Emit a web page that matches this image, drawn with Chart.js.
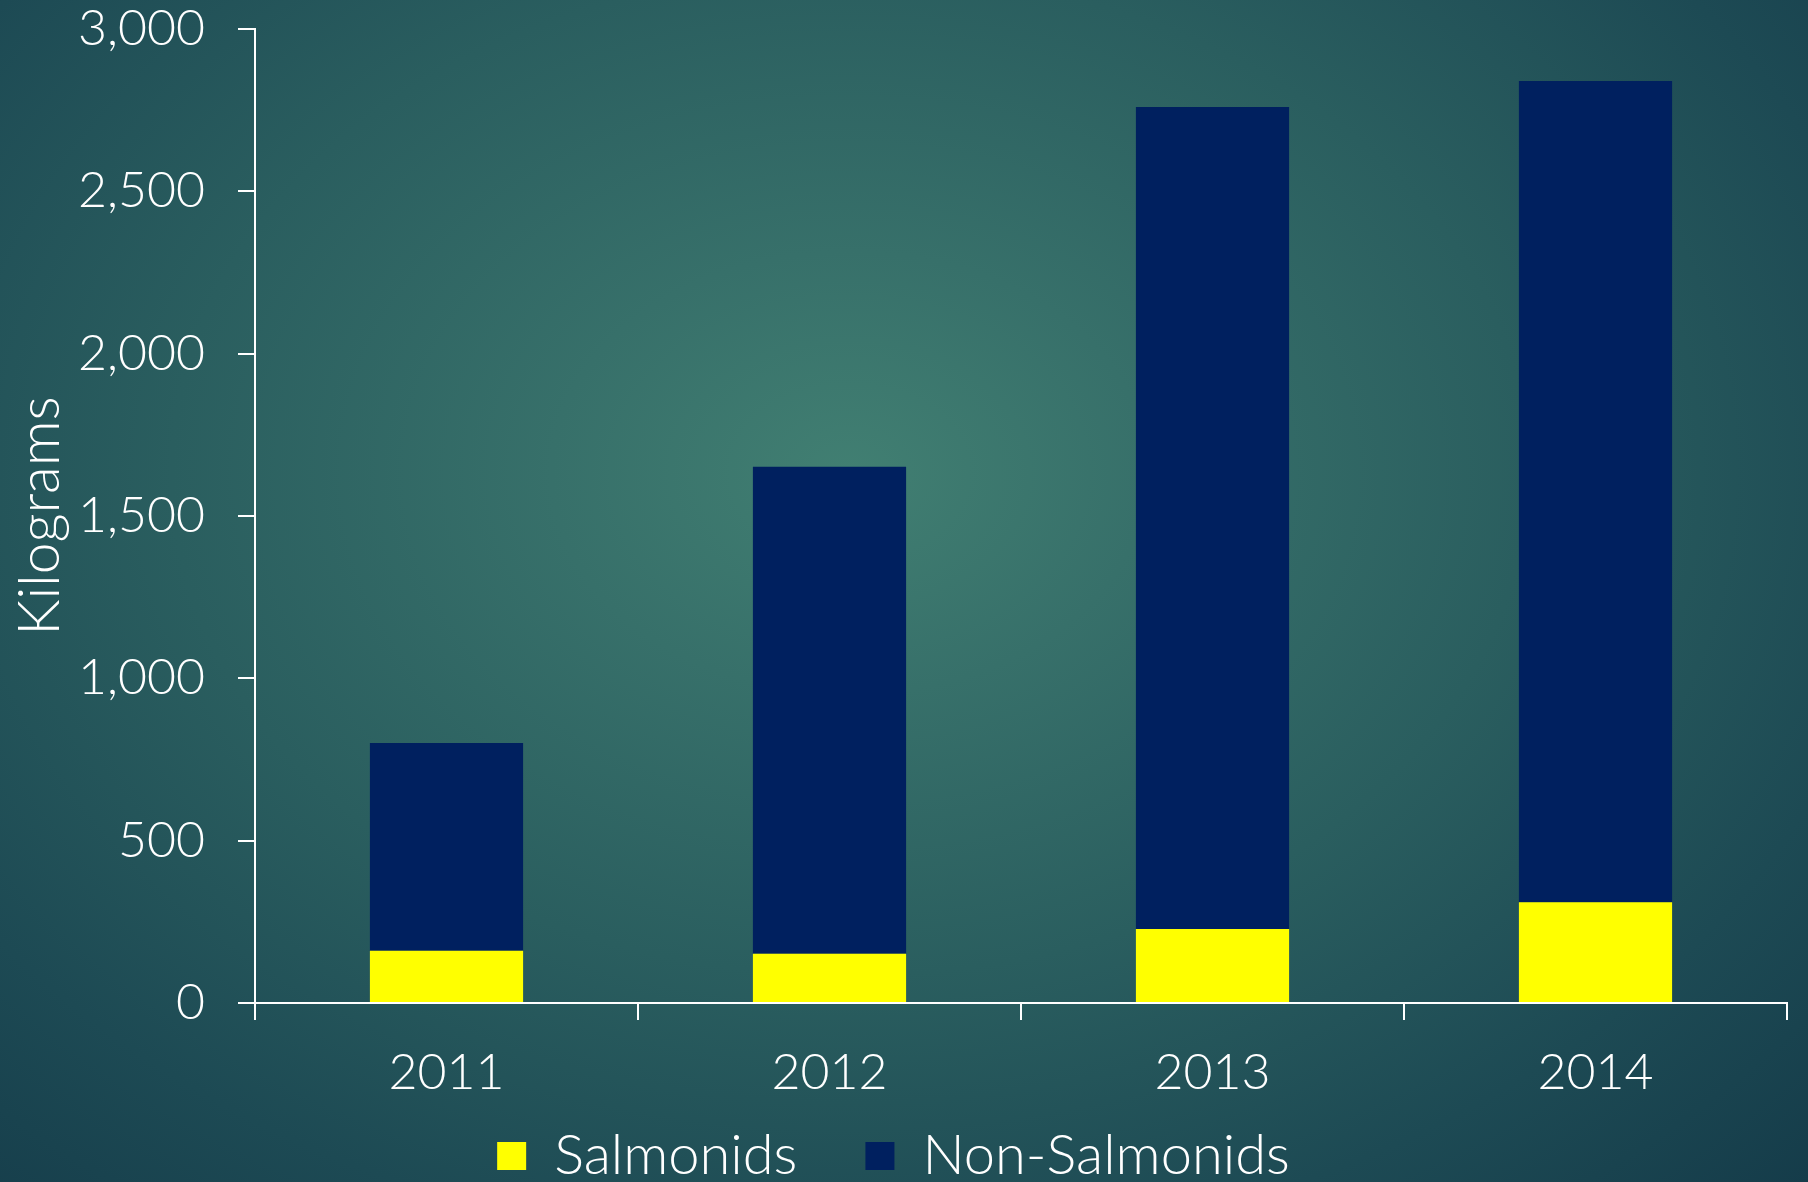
<!DOCTYPE html>
<html>
<head>
<meta charset="utf-8">
<script src="https://cdn.jsdelivr.net/npm/chart.js@4/dist/chart.umd.min.js"></script>
<style>
  html, body { margin: 0; padding: 0; }
  body {
    width: 1808px; height: 1182px; overflow: hidden;
    background: radial-gradient(ellipse 75% 85% at 47% 40%, #417f72 0%, #37706a 22%, #2a5e5f 50%, #1d4a54 78%, #153c4a 100%);
  }
  #wrap { width: 1808px; height: 1182px; }
</style>
</head>
<body>
<div id="wrap"><canvas id="barChart" width="1808" height="1182"></canvas></div>
<script>
var years = ["2011", "2012", "2013", "2014"];
var salmonids = [161, 152, 228, 310];
var nonSalmonids = [640, 1500, 2532, 2530];

var fontName = "Lato, 'Noto Sans', sans-serif";

var ctx = document.getElementById("barChart").getContext("2d");

var newChart = new Chart(ctx, {
    type: 'bar',
    data: {
        labels: years,
        datasets: [{
            label: "Salmonids",
            backgroundColor: "#ffff00",
            data: salmonids,
            categoryPercentage: 0.4,
            barPercentage: 1.0
        }, {
            label: "Non-Salmonids",
            backgroundColor: "#00205f",
            data: nonSalmonids,
            categoryPercentage: 0.4,
            barPercentage: 1.0
        }]
    },
    options: {
        responsive: false,
        animation: false,
        layout: {
            padding: { left: 0, right: 21, top: 29, bottom: 0 }
        },
        plugins: {
            tooltip: { enabled: false },
            legend: {
                position: 'bottom',
                labels: {
                    color: "#ffffff",
                    boxWidth: 29,
                    boxHeight: 28,
                    padding: 68,
                    font: { family: fontName, size: 56, weight: 300 }
                }
            }
        },
        scales: {
            x: {
                stacked: true,
                afterFit: function (s) { s.height = 111; },
                border: { display: true, color: "#ffffff", width: 2 },
                grid: {
                    drawOnChartArea: false,
                    drawTicks: true,
                    tickLength: 17,
                    color: "#ffffff",
                    lineWidth: 2
                },
                ticks: {
                    color: "#ffffff",
                    padding: 23,
                    font: { family: fontName, size: 50, weight: 300 }
                }
            },
            y: {
                stacked: true,
                min: 0,
                max: 3000,
                afterFit: function (s) {
                    s.width = 255;
                    s.paddingTop = 0;
                    s.paddingBottom = 0;
                },
                border: { display: true, color: "#ffffff", width: 2 },
                grid: {
                    drawOnChartArea: false,
                    drawTicks: true,
                    tickLength: 17,
                    color: "#ffffff",
                    lineWidth: 2
                },
                ticks: {
                    stepSize: 500,
                    color: "#ffffff",
                    padding: 33,
                    font: { family: fontName, size: 50, weight: 300 }
                },
                title: {
                    display: true,
                    text: "Kilograms",
                    color: "#ffffff",
                    padding: 6,
                    font: { family: fontName, size: 57, weight: 300 }
                }
            }
        }
    }
});

// the legend keeps wide gaps between items but sits lower and takes less room
var legendBox = newChart.legend;
var legendFit = legendBox.fit;
legendBox.fit = function () {
    legendFit.call(this);
    this.height = 68;
};
var legendDraw = legendBox.draw;
legendBox.draw = function () {
    var top = this.top;
    this.top = top - 54;
    legendDraw.call(this);
    this.top = top;
};
newChart.update();
</script>
</body>
</html>
